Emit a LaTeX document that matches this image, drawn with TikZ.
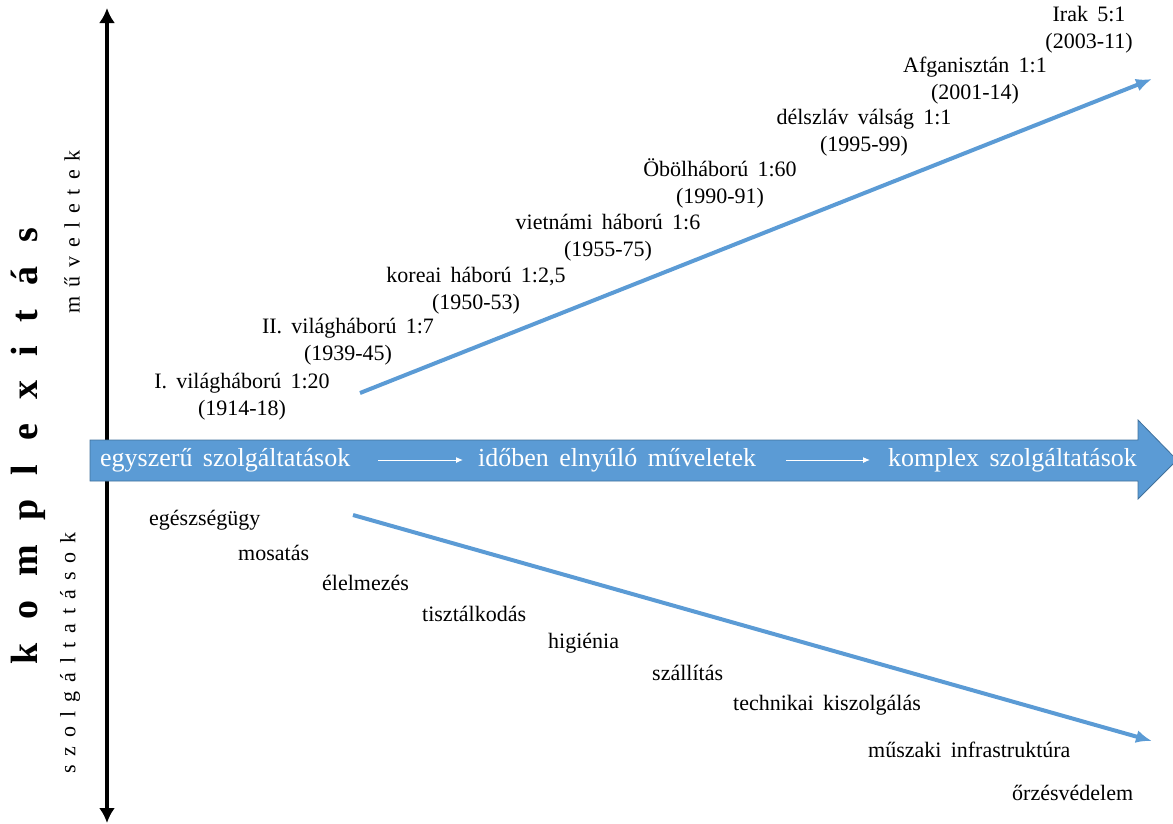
\documentclass[tikz,border=0pt]{standalone}
\usepackage{fontspec}
\setmainfont{Liberation Serif}
\usetikzlibrary{arrows.meta}
\definecolor{bandblue}{HTML}{5B9BD5}
\definecolor{bandedge}{HTML}{41719C}
\begin{document}
\begin{tikzpicture}[x=1pt,y=-1pt,
  lbl/.style={font={\fontsize{22}{27}\selectfont\spaceskip=.42em\relax}, inner sep=0pt, align=center},
  item/.style={font={\fontsize{22}{27}\selectfont\spaceskip=.42em\relax}, inner sep=0pt, anchor=west},
  band/.style={font={\fontsize{26}{30}\selectfont\spaceskip=.4em\relax}, text=white, inner sep=0pt, anchor=west},
  trend/.style={draw=bandblue, line width=4pt, -{Latex[length=16pt,width=13pt]}},
  axis/.style={line width=4.5pt, {Latex[length=15pt,width=16pt]}-{Latex[length=15pt,width=16pt]}},
  flow/.style={draw=white, line width=1pt, -{Latex[length=7pt,width=6pt]}}]
\useasboundingbox (0,0) rectangle (1173,823);

% vertical complexity axis
\coordinate (axtop) at (107,8);
\coordinate (axbot) at (107,823);
\draw[axis] (axbot) -- (axtop);

% rotated axis captions
\node[rotate=90, inner sep=0pt, font={\fontsize{38}{40}\selectfont\bfseries\spaceskip=24pt\relax}]
  (kompl) at (28,446) {k o m p l e x i t á s};
\node[rotate=90, inner sep=0pt, font={\fontsize{22}{24}\selectfont\spaceskip=9pt\relax}]
  (muv) at (72,232) {m ű v e l e t e k};
\node[rotate=90, inner sep=0pt, font={\fontsize{22}{24}\selectfont\spaceskip=9pt\relax}]
  (szolg) at (70,653) {s z o l g á l t a t á s o k};

% broad horizontal arrow
\fill[bandblue, draw=bandedge, line width=0.8pt]
  (90,440) -- (1138,440) -- (1138,420) -- (1177,460) -- (1138,499) -- (1138,481) -- (90,481) -- cycle;
\node[band] (b1) at (100,460) {egyszerű szolgáltatások};
\node[band] (b2) at (478,460) {időben elnyúló műveletek};
\node[band] (b3) at (888,460) {komplex szolgáltatások};
\draw[flow] ([xshift=28pt]b1.east) -- ([xshift=-15pt]b2.west);
\draw[flow] ([xshift=30pt]b2.east) -- ([xshift=-18pt]b3.west);

% operations trend
\coordinate (ops0) at (360,393);
\coordinate (ops1) at (1152,79);
\draw[trend] (ops0) -- (ops1);
\node[lbl] (w1) at (242,397) {I. világháború 1:20\\(1914-18)};
\node[lbl] (w2) at (348,342) {II. világháború 1:7\\(1939-45)};
\node[lbl] (w3) at (476,291) {koreai háború 1:2,5\\(1950-53)};
\node[lbl] (w4) at (608,238) {vietnámi háború 1:6\\(1955-75)};
\node[lbl] (w5) at (720,183) {Öbölháború 1:60\\(1990-91)};
\node[lbl] (w6) at (864,133) {délszláv válság 1:1\\(1995-99)};
\node[lbl] (w7) at (975,81) {Afganisztán 1:1\\(2001-14)};
\node[lbl] (w8) at (1089,30) {Irak 5:1\\(2003-11)};

% services trend
\coordinate (srv0) at (353,515);
\coordinate (srv1) at (1152,741);
\draw[trend] (srv0) -- (srv1);
\node[item] (s1) at (149,520) {egészségügy};
\node[item] (s2) at (238,553) {mosatás};
\node[item] (s3) at (322,583) {élelmezés};
\node[item] (s4) at (422,614) {tisztálkodás};
\node[item] (s5) at (548,643) {higiénia};
\node[item] (s6) at (652,673) {szállítás};
\node[item] (s7) at (733,705) {technikai kiszolgálás};
\node[item] (s8) at (868,750) {műszaki infrastruktúra};
\node[item] (s9) at (1012,793) {őrzésvédelem};
\end{tikzpicture}
\end{document}
